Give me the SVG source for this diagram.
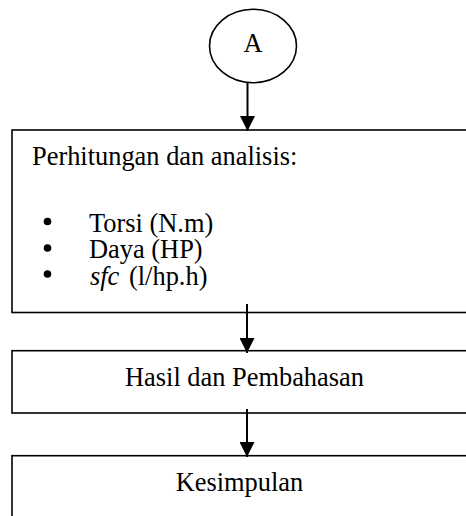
<svg xmlns="http://www.w3.org/2000/svg" width="466" height="516" viewBox="0 0 466 516">
<style>
.box{fill:#fff;stroke:#000;stroke-width:1.6}
.t{font-family:"Liberation Serif","Times New Roman",serif;font-size:26.4px;fill:#000}
.c{stroke:#000;stroke-width:2;fill:none}
</style>
<defs>
<marker id="ah" markerWidth="15" markerHeight="15" viewBox="0 0 15 15" refX="15" refY="7.5" orient="auto" markerUnits="userSpaceOnUse">
<path d="M0,0 L15,7.5 L0,15 Z" fill="#000"/>
</marker>
</defs>
<rect width="466" height="516" fill="#fff"/>
<g id="nodeA">
<ellipse class="box" cx="253" cy="46" rx="43.5" ry="36.7"/>
<text class="t" x="253" y="52" text-anchor="middle">A</text>
</g>
<g id="node1">
<rect class="box" x="12" y="130" width="470" height="182.5"/>
<text class="t" x="32" y="165">Perhitungan dan analisis:</text>
<circle cx="47.5" cy="221.5" r="3.8"/>
<circle cx="47.5" cy="248" r="3.8"/>
<circle cx="47.5" cy="274" r="3.8"/>
<text class="t"><tspan x="89" y="231.5">Torsi (N.m)</tspan><tspan x="89" y="258">Daya (HP)</tspan><tspan x="90" y="285" font-style="italic">sfc</tspan><tspan x="129" y="285">(l/hp.h)</tspan></text>
</g>
<g id="node2">
<rect class="box" x="12" y="350.7" width="470" height="62.3"/>
<text class="t" x="244.5" y="386" text-anchor="middle">Hasil dan Pembahasan</text>
</g>
<g id="node3">
<rect class="box" x="12" y="455.7" width="470" height="80"/>
<text class="t" x="239.5" y="490.5" text-anchor="middle">Kesimpulan</text>
</g>
<g id="connectors">
<line class="c" x1="247.5" y1="83" x2="247.5" y2="131" marker-end="url(#ah)"/>
<line class="c" x1="247" y1="304" x2="247" y2="353" marker-end="url(#ah)"/>
<line class="c" x1="247" y1="409" x2="247" y2="457" marker-end="url(#ah)"/>
</g>
</svg>
